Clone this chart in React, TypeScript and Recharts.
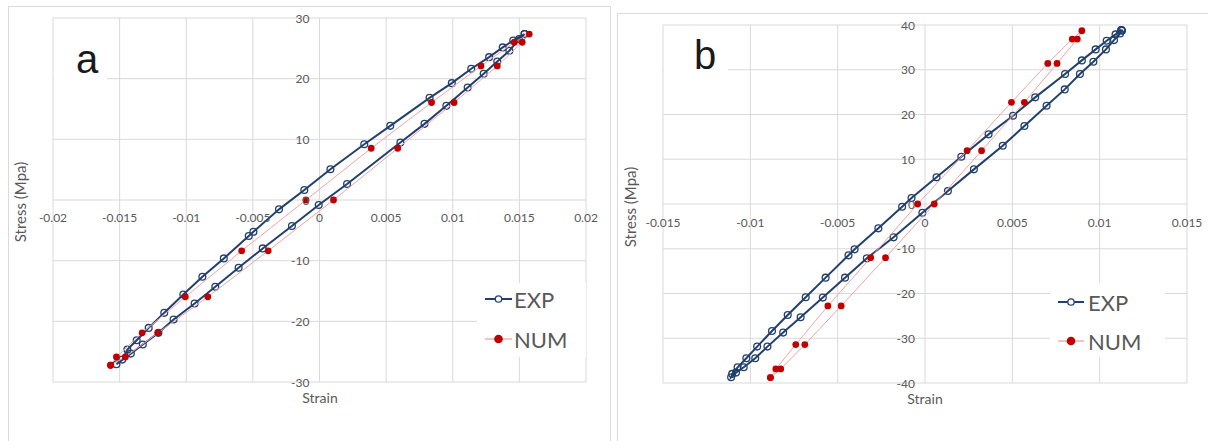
import React from 'react';
import { ScatterChart, Scatter, XAxis, YAxis, CartesianGrid, Legend } from 'recharts';

const FONT = 'Lato, "Liberation Sans", sans-serif';
const NAVY = '#22406E';
const RED = '#C00000';
const PINK = '#F2A3A3';
const GRID = '#D9D9D9';
const TXT = '#595959';

// ---------- Panel a ----------
const xTicksA = [-0.02, -0.015, -0.01, -0.005, 0, 0.005, 0.01, 0.015, 0.02];
const yTicksA = [-30, -20, -10, 0, 10, 20, 30];

const expStrainA = [
  0.01539, 0.01454, 0.01375, 0.01273, 0.01139, 0.00993, 0.00826, 0.00531, 0.00336, 0.00082,
  -0.00114, -0.00304, -0.00496, -0.00531, -0.00718, -0.00879, -0.01022, -0.01165, -0.01282, -0.01372,
  -0.01442, -0.0148, -0.01524,
  -0.01416, -0.01326, -0.01209, -0.01095, -0.00937, -0.00782, -0.00607, -0.00426, -0.00207, -0.00006,
  0.00207, 0.00607, 0.00788, 0.00952, 0.01112, 0.01232, 0.01334, 0.01425, 0.01498, 0.01539,
];
const expStressA = [
  27.35, 26.3, 25.15, 23.55, 21.63, 19.26, 16.84, 12.22, 9.19, 5.06,
  1.65, -1.54, -5.23, -5.94, -9.63, -12.66, -15.58, -18.6, -21.08, -23.12,
  -24.66, -26.31, -27.08,
  -25.32, -23.83, -21.9, -19.7, -17.06, -14.31, -11.17, -7.98, -4.29, -0.83,
  2.64, 9.47, 12.55, 15.52, 18.55, 20.8, 22.84, 24.6, 26.53, 27.35,
];
const numStrainA = [
  -0.01568, -0.01524, -0.01331, -0.01007, -0.00584, -0.00102, 0.00388, 0.00841, 0.01212, 0.01463, 0.01574,
  0.01521, 0.01334, 0.0101, 0.00587, 0.00105, -0.00385, -0.00838, -0.01212, -0.01457, -0.01568,
];
const numStressA = [
  -27.24, -25.87, -21.9, -15.96, -8.37, 0, 8.53, 16.07, 22.1, 26, 27.35,
  26, 22.1, 16.07, 8.53, 0, -8.37, -15.96, -21.9, -25.87, -27.24,
];

// ---------- Panel b ----------
const xTicksB = [-0.015, -0.01, -0.005, 0, 0.005, 0.01, 0.015];
const yTicksB = [-40, -30, -20, -10, 0, 10, 20, 30, 40];

const expStrainB = [
  0.01124, 0.01091, 0.0104, 0.00977, 0.00898, 0.00802, 0.00631, 0.00504, 0.00364, 0.00208,
  0.00066, -0.00077, -0.00131, -0.00267, -0.00403, -0.00438, -0.00569, -0.00683, -0.00786, -0.00876,
  -0.00961, -0.01023, -0.01073, -0.01104, -0.0111,
  -0.01082, -0.01038, -0.00972, -0.00902, -0.00812, -0.00712, -0.00585, -0.00458, -0.00333, -0.0018,
  -0.00015, 0.00131, 0.0028, 0.00445, 0.00569, 0.00696, 0.008, 0.00887, 0.00964, 0.01036,
  0.01082, 0.01117, 0.01128, 0.01124,
];
const expStressB = [
  38.87, 37.9, 36.49, 34.55, 32.09, 29.04, 23.83, 19.73, 15.56, 10.57,
  5.96, 1.34, -0.6, -5.44, -10.13, -11.47, -16.46, -20.85, -24.8, -28.37,
  -31.87, -34.47, -36.49, -37.97, -38.72,
  -37.68, -36.49, -34.47, -31.87, -28.74, -25.32, -20.92, -16.46, -12.14, -7.45,
  -1.94, 2.9, 7.74, 13.03, 17.42, 21.97, 25.61, 29.04, 31.79, 34.55,
  36.63, 38.12, 38.72, 38.87,
];
const numStrainB = [
  -0.00885, -0.00854, -0.0074, -0.00556, -0.00311, -0.00042, 0.00241, 0.00495, 0.00703, 0.00843, 0.00898,
  0.00872, 0.00756, 0.00569, 0.00324, 0.00053, -0.00226, -0.0048, -0.00688, -0.00826, -0.00885,
];
const numStressB = [
  -38.79, -36.86, -31.42, -22.78, -11.99, 0, 11.91, 22.71, 31.42, 36.86, 38.72,
  36.86, 31.42, 22.71, 11.91, 0, -11.99, -22.78, -31.42, -36.86, -38.79,
];

const zip = (xs: number[], ys: number[]) => xs.map((x, i) => ({ x, y: ys[i] }));

const ExpDot = (p: any) =>
  p.cx == null ? <g /> : <circle cx={p.cx} cy={p.cy} r={3.4} fill="none" stroke={NAVY} strokeWidth={1.3} />;
const NumDot = (p: any) => (p.cx == null ? <g /> : <circle cx={p.cx} cy={p.cy} r={3.4} fill={RED} />);

type Cfg = {
  left: number;
  top: number;
  width: number;
  height: number;
  plot: { top: number; right: number; bottom: number; left: number };
  xDomain: [number, number];
  yDomain: [number, number];
  xTicks: number[];
  yTicks: number[];
  exp: { x: number; y: number }[];
  num: { x: number; y: number }[];
  letter: string;
  letterBox: { x: number; y: number; w: number; h: number; tx: number; ty: number };
  legendBox: { x: number; y: number; w: number; h: number; r1: number; r2: number; lx1: number; lx2: number; tx: number };
  strainPos: [number, number];
  stressPos: [number, number];
  border: { x: number; y: number; w: number };
  xLabelDy: number;
};

const LegendBox = ({ b }: { b: Cfg['legendBox'] }) => {
  const mid = (b.lx1 + b.lx2) / 2;
  return (
    <svg width={b.w} height={b.h} style={{ display: 'block' }}>
      <line x1={b.lx1} x2={b.lx2} y1={b.r1} y2={b.r1} stroke={NAVY} strokeWidth={2} />
      <circle cx={mid} cy={b.r1} r={3.2} fill="#fff" stroke={NAVY} strokeWidth={1.3} />
      <text x={b.tx} y={b.r1} dominantBaseline="central" fontSize={22} fill={TXT} fontFamily={FONT}>
        EXP
      </text>
      <line x1={b.lx1} x2={b.lx2} y1={b.r2} y2={b.r2} stroke={PINK} strokeWidth={1.3} />
      <circle cx={mid} cy={b.r2} r={4.3} fill={RED} />
      <text x={b.tx} y={b.r2} dominantBaseline="central" fontSize={22} fill={TXT} fontFamily={FONT}>
        NUM
      </text>
    </svg>
  );
};

const X_AXIS_H = 30;
const Y_AXIS_W = 30;

const Panel = ({ c }: { c: Cfg }) => {
  const plotW = c.width - c.plot.left - c.plot.right;
  const plotH = c.height - c.plot.top - c.plot.bottom;
  const zeroX = c.plot.left + plotW / 2;
  const zeroY = c.plot.top + plotH / 2;
  const margin = {
    top: c.plot.top,
    right: c.plot.right,
    bottom: c.plot.bottom - X_AXIS_H,
    left: c.plot.left - Y_AXIS_W,
  };
  return (
    <>
      <div
        style={{
          position: 'absolute',
          left: c.border.x,
          top: c.border.y,
          width: c.border.w,
          height: 600,
          border: '1px solid #DADADA',
          boxSizing: 'border-box',
          background: '#fff',
        }}
      />
      <div style={{ position: 'absolute', left: c.left, top: c.top }}>
        <ScatterChart width={c.width} height={c.height} margin={margin}>
          <CartesianGrid stroke={GRID} strokeWidth={1} />
          <XAxis
            type="number"
            dataKey="x"
            domain={c.xDomain}
            ticks={c.xTicks}
            interval={0}
            height={X_AXIS_H}
            axisLine={false}
            tickLine={false}
            allowDataOverflow
            tick={(p: any) => (
              <text
                x={p.x}
                y={zeroY + c.xLabelDy}
                textAnchor="middle"
                dominantBaseline="central"
                fontSize={12}
                fill={TXT}
                fontFamily={FONT}
              >
                {String(p.payload.value)}
              </text>
            )}
            label={{
              content: () => (
                <text
                  x={c.strainPos[0]}
                  y={c.strainPos[1]}
                  textAnchor="middle"
                  dominantBaseline="central"
                  fontSize={14}
                  fill={TXT}
                  fontFamily={FONT}
                >
                  Strain
                </text>
              ),
            }}
          />
          <YAxis
            type="number"
            dataKey="y"
            domain={c.yDomain}
            ticks={c.yTicks}
            interval={0}
            width={Y_AXIS_W}
            axisLine={false}
            tickLine={false}
            allowDataOverflow
            tick={(p: any) => (
              <text
                x={zeroX - 10}
                y={p.y}
                textAnchor="end"
                dominantBaseline="central"
                fontSize={12}
                fill={TXT}
                fontFamily={FONT}
              >
                {String(p.payload.value)}
              </text>
            )}
            label={{
              content: () => (
                <text
                  x={c.stressPos[0]}
                  y={c.stressPos[1]}
                  textAnchor="middle"
                  dominantBaseline="central"
                  fontSize={15}
                  fill={TXT}
                  fontFamily={FONT}
                  transform={`rotate(-90 ${c.stressPos[0]} ${c.stressPos[1]})`}
                >
                  Stress (Mpa)
                </text>
              ),
            }}
          />
          <Scatter
            name="EXP"
            data={c.exp}
            line={{ stroke: NAVY, strokeWidth: 2 }}
            lineType="joint"
            shape={ExpDot}
            isAnimationActive={false}
          />
          <Scatter
            name="NUM"
            data={c.num}
            line={{ stroke: PINK, strokeWidth: 1 }}
            lineType="joint"
            shape={NumDot}
            isAnimationActive={false}
          />
          <Legend
            layout="vertical"
            align="center"
            verticalAlign="middle"
            wrapperStyle={{
              position: 'absolute',
              left: c.legendBox.x,
              top: c.legendBox.y,
              width: c.legendBox.w,
              height: c.legendBox.h,
              background: '#fff',
              margin: 0,
              padding: 0,
            }}
            content={() => <LegendBox b={c.legendBox} />}
          />
        </ScatterChart>
      </div>
      <div
        style={{
          position: 'absolute',
          left: c.left + c.letterBox.x,
          top: c.top + c.letterBox.y,
          width: c.letterBox.w,
          height: c.letterBox.h,
          background: '#fff',
        }}
      />
      <svg
        style={{ position: 'absolute', left: c.left + c.letterBox.x, top: c.top + c.letterBox.y - 15, overflow: 'visible' }}
        width={c.letterBox.w}
        height={c.letterBox.h + 25}
      >
        <text x={c.letterBox.tx} y={c.letterBox.ty + 15} fontSize={40} fill="#1a1a1a" fontFamily='"Liberation Sans", Arial, sans-serif'>
          {c.letter}
        </text>
      </svg>
    </>
  );
};

const cfgA: Cfg = {
  left: 0,
  top: 0,
  width: 610,
  height: 441,
  plot: { top: 18, right: 24, bottom: 59, left: 53 },
  xDomain: [-0.02, 0.02],
  yDomain: [-30, 30],
  xTicks: xTicksA,
  yTicks: yTicksA,
  exp: zip(expStrainA, expStressA),
  num: zip(numStrainA, numStressA),
  letter: 'a',
  letterBox: { x: 54, y: 48, w: 53, h: 33, tx: 22, ty: 25 },
  legendBox: { x: 477, y: 283, w: 109, h: 74, r1: 16, r2: 56, lx1: 8, lx2: 35, tx: 37 },
  strainPos: [320, 397],
  stressPos: [19.5, 202],
  border: { x: 8, y: 6, w: 603 },
  xLabelDy: 17,
};

const cfgB: Cfg = {
  left: 610,
  top: 0,
  width: 598,
  height: 441,
  plot: { top: 25, right: 21, bottom: 58, left: 53 },
  xDomain: [-0.015, 0.015],
  yDomain: [-40, 40],
  xTicks: xTicksB,
  yTicks: yTicksB,
  exp: zip(expStrainB, expStressB),
  num: zip(numStrainB, numStressB),
  letter: 'b',
  letterBox: { x: 54, y: 43, w: 64, h: 29, tx: 30, ty: 26 },
  legendBox: { x: 440, y: 283, w: 115, h: 74, r1: 19, r2: 58, lx1: 8, lx2: 34, tx: 38 },
  strainPos: [315, 398],
  stressPos: [20, 207],
  border: { x: 617, y: 13, w: 700 },
  xLabelDy: 18,
};

export default function App() {
  return (
    <div
      style={{
        position: 'absolute',
        left: 0,
        top: 0,
        width: 1208,
        height: 441,
        overflow: 'hidden',
        background: '#fff',
        fontFamily: FONT,
      }}
    >
      <Panel c={cfgA} />
      <Panel c={cfgB} />
    </div>
  );
}
